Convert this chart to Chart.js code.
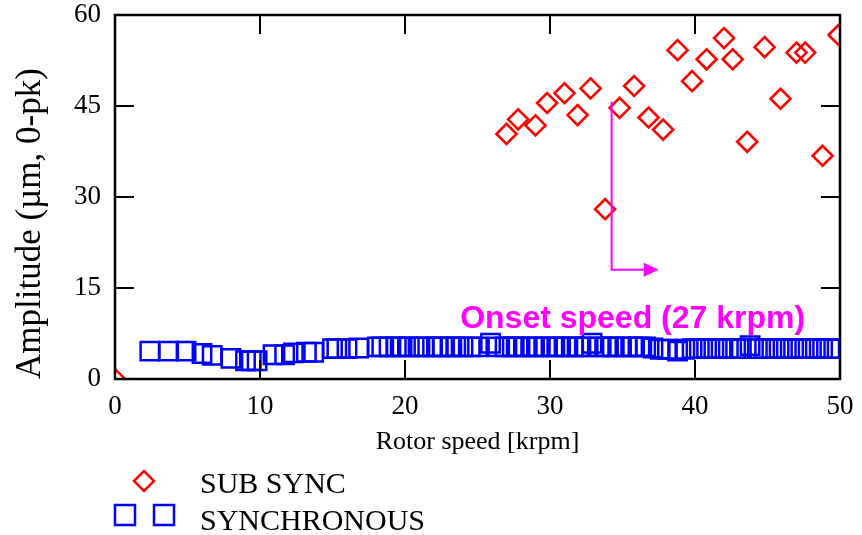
<!DOCTYPE html>
<html>
<head>
<meta charset="utf-8">
<script src="https://cdn.jsdelivr.net/npm/chart.js@4.4.1/dist/chart.umd.min.js"></script>
<style>
  html, body { margin: 0; padding: 0; background: #fff; }
  #wrap { position: relative; width: 862px; height: 535px; }
  #chart { position: absolute; left: 0; top: 0; }
  #legend { position: absolute; left: 0; top: 0; }
</style>
</head>
<body>
<div id="wrap">
  <canvas id="chart" width="862" height="535" style="width:862px;height:535px"></canvas>
  <svg id="legend" width="862" height="535" font-family="Liberation Serif, Times New Roman, serif" font-size="30">
    <polygon points="134,481 144,471 154,481 144,491" fill="none" stroke="#ff0000" stroke-width="2.5"/>
    <text x="200" y="493">SUB SYNC</text>
    <rect x="115" y="505" width="20" height="20" fill="none" stroke="#0000ff" stroke-width="2.5"/>
    <rect x="154" y="505" width="20" height="20" fill="none" stroke="#0000ff" stroke-width="2.5"/>
    <text x="200" y="530">SYNCHRONOUS</text>
  </svg>
</div>
<script>
// sub-synchronous component (krpm, um 0-pk)
const subSpeed = [0, 27.0, 27.8, 29.0, 29.8, 31.0, 31.9, 32.8, 33.8, 34.8, 35.8, 36.8, 37.8,
  38.8, 39.8, 40.8, 42.0, 42.6, 43.6, 44.8, 45.9, 47.0, 47.6, 48.8, 49.9];
const subAmp = [0, 40.4, 42.8, 41.8, 45.5, 47.1, 43.5, 47.9, 28.0, 44.7, 48.3, 43.1, 41.1,
  54.2, 49.1, 52.7, 56.2, 52.7, 39.1, 54.7, 46.2, 53.8, 53.8, 36.8, 56.7];

// synchronous (1X) component
const syncSpeed = [2.4, 3.7, 4.9, 6.0, 6.7, 8.0, 9.0, 9.4, 9.8, 10.9, 11.7, 12.3, 13.2, 13.7,
  15.0, 15.3, 16.0, 16.8, 18.1, 18.4, 18.9, 19.4, 19.8, 20.3, 20.9, 21.3, 21.9, 22.3, 22.6,
  23.1, 23.5, 24.0, 24.5, 25.0, 25.9, 26.4, 26.9, 27.4, 27.8, 28.3, 28.8, 29.2, 29.7, 30.2,
  30.6, 31.1, 31.6, 32.0, 32.5, 32.9, 33.4, 33.9, 34.3, 34.8, 35.3, 35.7, 36.2, 36.6, 37.1,
  37.6, 38.1, 38.8, 39.3, 39.8, 40.3, 40.8, 41.3, 41.8, 42.3, 42.8, 43.2, 43.8, 44.3, 44.8,
  45.3, 45.8, 46.3, 46.8, 47.3, 47.8, 48.3, 48.8, 49.3, 49.8];
const syncAmp = [4.6, 4.6, 4.6, 4.2, 3.9, 3.4, 3.0, 3.0, 3.0, 4.0, 4.0, 4.3, 4.4, 4.4,
  5.0, 5.0, 5.0, 5.1, 5.3, 5.3, 5.3, 5.3, 5.3, 5.3, 5.3, 5.3, 5.3, 5.3, 5.3,
  5.3, 5.3, 5.3, 5.3, 5.3, 5.9, 5.3, 5.3, 5.3, 5.3, 5.3, 5.3, 5.3, 5.3, 5.3,
  5.3, 5.3, 5.3, 5.3, 5.3, 5.9, 5.3, 5.3, 5.3, 5.3, 5.3, 5.3, 5.3, 5.3, 5.1,
  4.9, 4.9, 4.6, 4.9, 5.0, 5.0, 5.0, 5.0, 5.0, 5.0, 5.0, 5.0, 5.5, 5.0, 5.0,
  5.0, 5.0, 5.0, 5.0, 5.0, 5.0, 5.0, 5.0, 5.0, 5.0];

const xTicks = [0, 10, 20, 30, 40, 50];
const yTicks = [0, 15, 30, 45, 60];

// onset marker: vertical drop then arrow to the right
const onsetPath = [[34.25, 45.7], [34.25, 18], [37.5, 18]];
const onsetText = 'Onset speed (27 krpm)';
const onsetTextAt = [35.7, 8.4];

const toXY = (xs, ys) => xs.map((x, i) => ({ x, y: ys[i] }));

const serif = '"Liberation Serif", "Times New Roman", serif';

// keep the plot box where the layout padding puts it (no room added for edge labels)
const noEdgePad = s => {
  s.paddingTop = 0; s.paddingBottom = 0; s.paddingLeft = 0; s.paddingRight = 0;
};

// box frame with inward ticks on all four sides
const frameTicks = {
  id: 'frameTicks',
  afterDatasetsDraw(chart) {
    const { ctx, chartArea: a, scales: { x, y } } = chart;
    const len = 19;
    ctx.save();
    ctx.strokeStyle = '#000';
    ctx.lineWidth = 2;
    ctx.beginPath();
    xTicks.forEach(v => {
      const px = x.getPixelForValue(v);
      ctx.moveTo(px, a.bottom); ctx.lineTo(px, a.bottom - len);
      ctx.moveTo(px, a.top); ctx.lineTo(px, a.top + len);
    });
    yTicks.forEach(v => {
      const py = y.getPixelForValue(v);
      ctx.moveTo(a.left, py); ctx.lineTo(a.left + len, py);
      ctx.moveTo(a.right, py); ctx.lineTo(a.right - len, py);
    });
    ctx.stroke();
    ctx.lineWidth = 2.5;
    ctx.strokeRect(a.left, a.top, a.right - a.left, a.bottom - a.top);
    ctx.restore();
  }
};

const onsetMark = {
  id: 'onsetMark',
  afterDatasetsDraw(chart) {
    const { ctx, scales: { x, y } } = chart;
    const pts = onsetPath.map(([vx, vy]) => [x.getPixelForValue(vx), y.getPixelForValue(vy)]);
    const head = 15;
    ctx.save();
    ctx.strokeStyle = '#ff00ff';
    ctx.fillStyle = '#ff00ff';
    ctx.lineWidth = 2;
    ctx.beginPath();
    ctx.moveTo(pts[0][0], pts[0][1]);
    ctx.lineTo(pts[1][0], pts[1][1]);
    ctx.lineTo(pts[2][0] - head, pts[2][1]);
    ctx.stroke();
    const [tx, ty] = pts[2];
    ctx.beginPath();
    ctx.moveTo(tx, ty);
    ctx.lineTo(tx - head, ty - 7);
    ctx.lineTo(tx - head, ty + 7);
    ctx.closePath();
    ctx.fill();

    ctx.font = 'bold 32px "Liberation Sans", Arial, sans-serif';
    ctx.textAlign = 'center';
    ctx.textBaseline = 'alphabetic';
    ctx.fillText(onsetText, x.getPixelForValue(onsetTextAt[0]), y.getPixelForValue(onsetTextAt[1]));
    ctx.restore();
  }
};

new Chart(document.getElementById('chart'), {
  type: 'scatter',
  data: {
    datasets: [
      {
        label: 'SYNCHRONOUS',
        data: toXY(syncSpeed, syncAmp),
        pointStyle: 'rect',
        pointRadius: 13,
        pointHoverRadius: 13,
        borderColor: '#0000ff',
        backgroundColor: 'rgba(0,0,0,0)',
        pointBorderWidth: 2.5,
      },
      {
        label: 'SUB SYNC',
        data: toXY(subSpeed, subAmp),
        pointStyle: 'rectRot',
        pointRadius: 10,
        pointHoverRadius: 10,
        borderColor: '#ff0000',
        backgroundColor: 'rgba(0,0,0,0)',
        pointBorderWidth: 2.6,
      },
    ],
  },
  options: {
    responsive: false,
    animation: false,
    events: [],
    layout: { autoPadding: false, padding: { left: 0, right: 22, top: 15, bottom: 77 } },
    plugins: { legend: { display: false }, tooltip: { enabled: false } },
    scales: {
      x: {
        type: 'linear',
        min: 0, max: 50,
        afterFit: s => { s.height = 79; noEdgePad(s); },
        afterBuildTicks: s => { s.ticks = xTicks.map(v => ({ value: v })); },
        grid: { display: false, drawTicks: false },
        border: { display: false },
        ticks: { color: '#000', padding: 12, font: { family: serif, size: 27 } },
        title: {
          display: true, text: 'Rotor speed [krpm]', color: '#000',
          padding: { top: 0, bottom: 0 },
          font: { family: serif, size: 26 },
        },
      },
      y: {
        type: 'linear',
        min: 0, max: 60,
        afterFit: s => { s.width = 115; noEdgePad(s); },
        afterBuildTicks: s => { s.ticks = yTicks.map(v => ({ value: v })); },
        grid: { display: false, drawTicks: false },
        border: { display: false },
        ticks: { color: '#000', padding: 14, font: { family: serif, size: 27 } },
        title: {
          display: true, text: 'Amplitude (µm, 0-pk)', color: '#000',
          align: 'start',
          padding: { top: 10, bottom: 0 },
          font: { family: serif, size: 35 },
        },
      },
    },
  },
  plugins: [frameTicks, onsetMark],
});
</script>
</body>
</html>
